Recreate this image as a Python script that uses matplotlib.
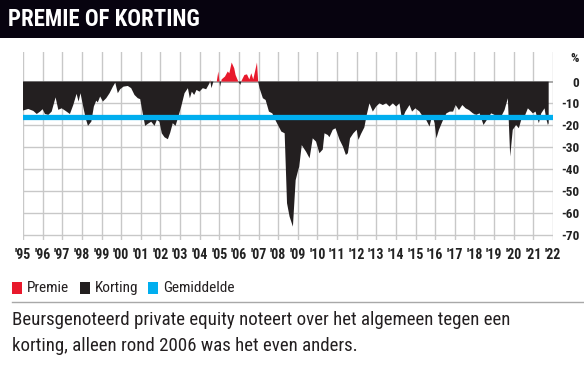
import matplotlib
matplotlib.use("Agg")
import matplotlib.pyplot as plt
import numpy as np
from matplotlib import font_manager as fm
from matplotlib.patches import Rectangle
from matplotlib.lines import Line2D

# ---- data (decimal years, premium(+)/discount(-) in %) ----
years = [1995.00, 1995.27, 1995.53, 1995.70, 1995.87, 1996.00, 1996.12, 1996.29, 1996.46,
         1996.66, 1996.80, 1996.97, 1997.14, 1997.39, 1997.56, 1997.73, 1997.83, 1997.93,
         1998.05, 1998.19, 1998.31, 1998.48, 1998.61, 1998.73, 1998.81, 1998.93, 1999.07,
         1999.24, 1999.41, 1999.58, 1999.70, 1999.83, 1999.95, 2000.12, 2000.34, 2000.51,
         2000.68, 2000.85, 2000.97, 2001.10, 2001.22, 2001.36, 2001.53, 2001.70, 2001.82,
         2001.95, 2002.07, 2002.21, 2002.38, 2002.50, 2002.63, 2002.77, 2002.89, 2003.06,
         2003.23, 2003.40, 2003.50, 2003.60, 2003.72, 2003.84, 2003.99, 2004.16, 2004.33,
         2004.50, 2004.53, 2004.60, 2004.70, 2004.87, 2004.95, 2005.04, 2005.12, 2005.29,
         2005.43, 2005.51, 2005.63, 2005.76, 2005.83, 2005.97, 2006.07, 2006.14, 2006.28,
         2006.41, 2006.53, 2006.63, 2006.73, 2006.82, 2006.92, 2006.98, 2007.05, 2007.22,
         2007.36, 2007.53, 2007.70, 2007.90, 2008.16, 2008.33, 2008.45, 2008.58, 2008.75,
         2008.89, 2009.03, 2009.07, 2009.20, 2009.42, 2009.60, 2009.76, 2009.93, 2010.10,
         2010.27, 2010.36, 2010.53, 2010.61, 2010.78, 2010.92, 2011.13, 2011.30, 2011.45,
         2011.55, 2011.66, 2011.83, 2012.00, 2012.09, 2012.22, 2012.39, 2012.51, 2012.65,
         2012.82, 2012.99, 2013.16, 2013.33, 2013.50, 2013.67, 2013.84, 2014.01, 2014.18,
         2014.31, 2014.48, 2014.69, 2014.82, 2014.99, 2015.20, 2015.37, 2015.54, 2015.71,
         2015.85, 2015.97, 2016.06, 2016.19, 2016.40, 2016.57, 2016.74, 2016.91, 2017.04,
         2017.21, 2017.38, 2017.55, 2017.72, 2017.92, 2018.09, 2018.26, 2018.46, 2018.63,
         2018.85, 2019.02, 2019.19, 2019.36, 2019.53, 2019.70, 2019.82, 2019.95, 2020.12,
         2020.26, 2020.38, 2020.55, 2020.72, 2020.89, 2020.97, 2021.11, 2021.28, 2021.40,
         2021.57, 2021.65, 2021.74, 2021.78]
values = [-13.2, -12.5, -13.4, -14.8, -13.7, -12.6, -14.8, -15.2, -13.7,
          -7.2, -12.9, -12.2, -13.2, -14.8, -10.7, -5.6, -9.1, -5.3,
          -10.7, -16.7, -20.2, -18.3, -11.4, -8.7, -9.5, -6.8, -9.1,
          -7.6, -5.3, -2.3, -0.5, -5.3, -3.5, -2.3, -2.0, -3.0,
          -6.1, -7.6, -8.0, -14.5, -20.2, -19.3, -18.3, -20.2, -17.5,
          -18.3, -23.6, -25.4, -26.3, -23.3, -19.0, -20.2, -16.7, -11.4,
          -5.3, -3.0, -7.6, -4.6, -6.1, -3.8, -4.6, -3.0, -3.5,
          -0.8, 0.8, -3.0, 0.0, 0.0, 4.6, -2.3, 1.0, 2.3,
          4.6, 3.8, 8.7, 6.1, 3.0, 0.0, -1.5, 0.5, 3.0,
          3.3, 1.0, 3.8, 1.0, 4.6, 8.7, 0.0, -3.0, -7.6,
          -8.4, -13.7, -14.5, -18.3, -22.8, -23.6, -55.5, -61.6, -66.2,
          -45.0, -40.0, -39.0, -29.0, -32.0, -35.0, -25.9, -27.4, -32.7,
          -31.0, -23.6, -24.4, -25.4, -22.0, -21.3, -26.6, -29.7, -33.5,
          -32.7, -25.9, -23.6, -22.0, -26.6, -23.9, -20.9, -15.2, -9.9,
          -13.7, -11.4, -9.9, -10.7, -9.9, -11.4, -9.9, -11.4, -9.9,
          -17.5, -13.7, -10.7, -13.7, -12.2, -13.7, -16.0, -17.5, -20.5,
          -15.2, -19.0, -25.9, -22.0, -17.5, -14.5, -13.7, -13.7, -10.7,
          -13.0, -10.7, -12.2, -13.0, -14.5, -15.2, -14.5, -19.8, -17.5,
          -14.5, -15.2, -17.5, -16.0, -13.0, -7.6, -34.2, -22.0, -19.8,
          -21.3, -17.5, -16.0, -12.2, -13.7, -14.5, -13.7, -19.0, -14.5,
          -12.2, -16.7, -19.8, -19.0]
average = -16.0
year_ticks = list(range(1995, 2023))
year_labels = ["'%02d" % (y % 100) for y in year_ticks]
y_ticks = [0, -10, -20, -30, -40, -50, -60, -70]
y_labels = ["0", "-10", "-20", "-30", "-40", "-50", "-60", "-70"]
legend_labels = ["Premie", "Korting", "Gemiddelde"]
title = "PREMIE OF KORTING"
caption = ["Beursgenoteerd private equity noteert over het algemeen tegen een",
           "korting, alleen rond 2006 was het even anders."]

RED = "#e8192c"
BLACK = "#231f20"
BLUE = "#00aeef"
GRID = "#c8c8c8"

names = {f.name for f in fm.fontManager.ttflist}
FONT = [n for n in ["Roboto Condensed", "Archivo Narrow", "Barlow Semi Condensed"] if n in names] + ["DejaVu Sans"]

W, H = 584, 375
fig = plt.figure(figsize=(W / 100, H / 100), dpi=100)
fig.patch.set_facecolor("white")

# title bar
fig.patches.append(Rectangle((0, 1 - 38 / H), 1, 38 / H, transform=fig.transFigure,
                             facecolor="#07030f", edgecolor="none", zorder=0))
fig.text(8 / W, 1 - 19 / H, title, color="white", fontsize=16.5, fontweight="bold",
         family=FONT, va="center", ha="left")

ax = fig.add_axes([23 / W, 1 - 240 / H, 530 / W, 188 / H])
x = np.array(years)
v = np.array(values)
ax.fill_between(x, 0, v, where=v <= 0, interpolate=True, color=BLACK, lw=0, zorder=3)
ax.fill_between(x, 0, v, where=v >= 0, interpolate=True, color=RED, lw=0, zorder=3)
ax.axhline(0, color="#9a9a9a", lw=1.2, zorder=2)
ax.axhline(average, color=BLUE, lw=3.8, zorder=4)

ax.set_xlim(1995, 2022)
ax.set_ylim(-72.3, 13.5)
for yt in y_ticks[1:]:
    ax.axhline(yt, color=GRID, lw=1, zorder=1)
for xt in year_ticks:
    ax.axvline(xt, color=GRID, lw=1, zorder=1)
for s in ax.spines.values():
    s.set_visible(False)

ax.set_xticks(year_ticks)
ax.set_xticklabels(year_labels, family=FONT, fontweight="bold",
                   fontsize=10, color="#222222")
ax.yaxis.tick_right()
ax.set_yticks(y_ticks)
ax.set_yticklabels(y_labels, family=FONT, fontweight="bold",
                   fontsize=9.5, color="#222222", ha="right")
ax.tick_params(axis="both", length=0)
ax.tick_params(axis="x", pad=6)
ax.tick_params(axis="y", pad=19)
fig.text(579 / W, 1 - 59 / H, "%", family=FONT, fontweight="bold",
         fontsize=9.5, color="#222222", ha="right", va="center")

# legend
leg_y = 288
items = [(12, RED, legend_labels[0]), (80, BLACK, legend_labels[1]), (148, BLUE, legend_labels[2])]
for lx, col, lab in items:
    fig.patches.append(Rectangle((lx / W, 1 - (leg_y + 6) / H), 10 / W, 12 / H,
                                 transform=fig.transFigure, facecolor=col, edgecolor="none"))
    fig.text((lx + 15) / W, 1 - leg_y / H, lab, family=FONT,
             fontsize=11, color=BLACK, va="center", ha="left")

fig.lines.append(Line2D([12 / W, 1], [1 - 302 / H, 1 - 302 / H], transform=fig.transFigure,
                        color="#a8a8a8", lw=1))
fig.text(12 / W, 1 - 320 / H, caption[0], family=FONT,
         fontsize=13.6, color=BLACK, va="center", ha="left")
fig.text(12 / W, 1 - 346 / H, caption[1], family=FONT,
         fontsize=13.6, color=BLACK, va="center", ha="left")

fig.savefig("out.png", dpi=100)
